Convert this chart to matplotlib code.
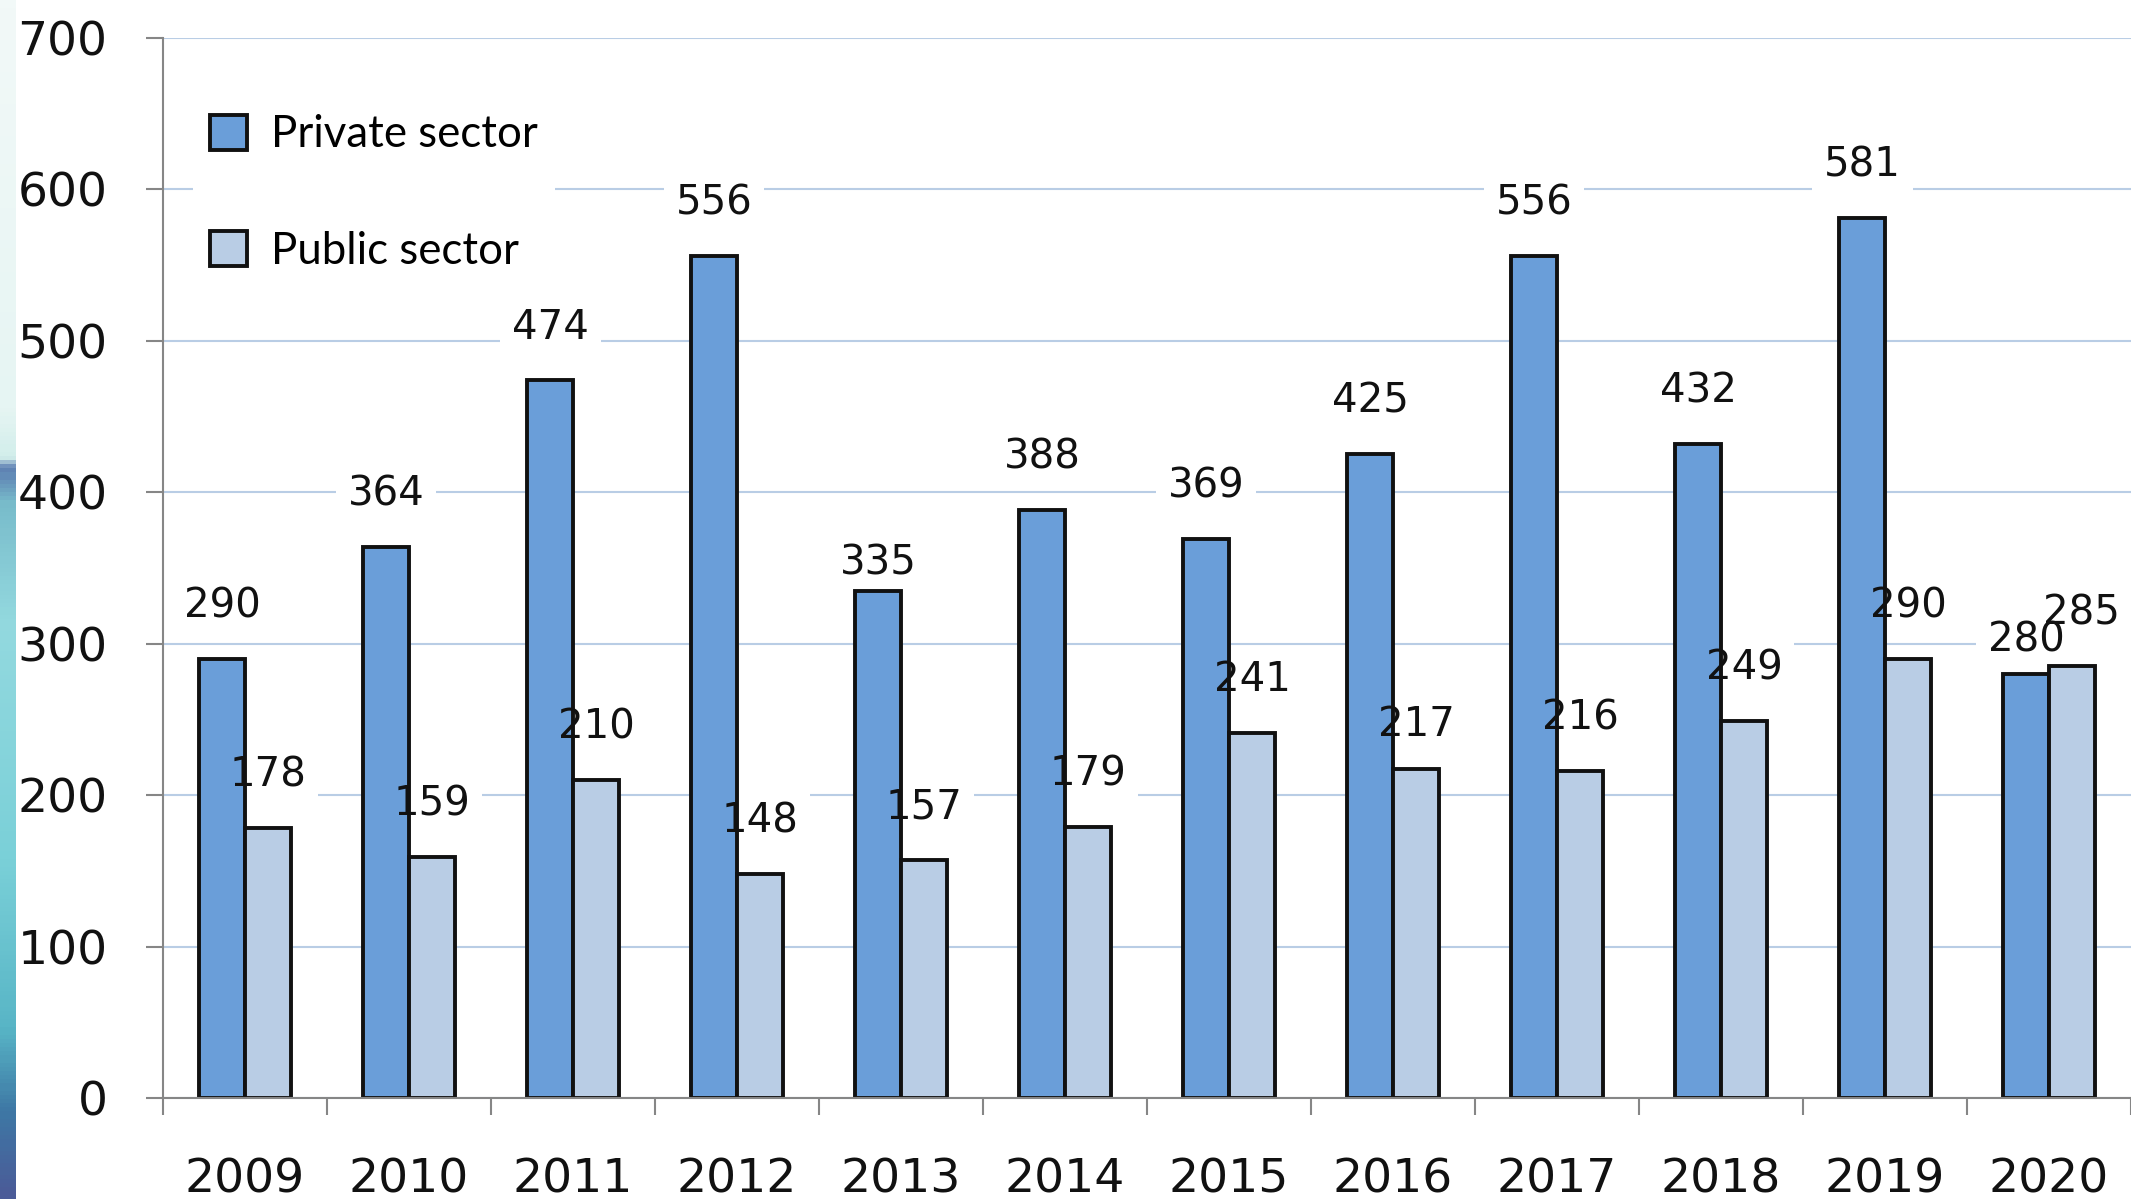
import numpy as np
import matplotlib
matplotlib.use("Agg")
import matplotlib.pyplot as plt
from matplotlib.colors import LinearSegmentedColormap
from matplotlib.patches import Rectangle

# Dados
anos = ["2009", "2010", "2011", "2012", "2013", "2014",
        "2015", "2016", "2017", "2018", "2019", "2020"]
privado = [290, 364, 474, 556, 335, 388, 369, 425, 556, 432, 581, 280]
publico = [178, 159, 210, 148, 157, 179, 241, 217, 216, 249, 290, 285]
series_nomes = ["Private sector", "Public sector"]

cor_privado = "#6a9ed9"
cor_publico = "#b9cde5"
cor_eixo = "#868686"

W, H = 2131, 1199
fig = plt.figure(figsize=(W / 100, H / 100), dpi=100)
fig.patch.set_facecolor("white")

# faixa da imagem de fundo na borda esquerda
faixa = fig.add_axes([0, 0, 16 / W, 1])
cmap_faixa = LinearSegmentedColormap.from_list("faixa", [
    (0.0, "#f2f9f8"), (0.34, "#e6f5f3"), (0.38, "#d2eeeb"),
    (0.39, "#5d7fb2"), (0.42, "#79bccb"), (0.52, "#93d9df"),
    (0.72, "#7ad0d8"), (0.86, "#58b5c6"), (0.93, "#3e78a5"),
    (1.0, "#4b5b98")])
faixa.imshow(np.linspace(0, 1, 300).reshape(-1, 1), aspect="auto", cmap=cmap_faixa)
faixa.axis("off")

# eixo principal
ax = fig.add_axes([163 / W, 101 / H, (W - 163) / W, 1060 / H])
x = np.arange(len(anos))
larg = 0.28

ax.bar(x - larg / 2, privado, larg, color=cor_privado, edgecolor="#111111",
       linewidth=2.8, zorder=2)
ax.bar(x + larg / 2, publico, larg, color=cor_publico, edgecolor="#111111",
       linewidth=2.8, zorder=2)

# deslocamentos manuais de alguns rótulos (como no original)
ajuste = {("priv", 4): (0, 12), ("pub", 7): (0, 24),
          ("priv", 11): (0, 16), ("pub", 11): (7, 30)}

# rótulos de dados (caixa branca por baixo das barras, texto por cima)
def rotular(xs, vals, serie):
    for i, (xi, v) in enumerate(zip(xs, vals)):
        off = ajuste.get((serie, i), (0, 30))
        ax.annotate(str(v), (xi, v), xytext=off, textcoords="offset points",
                    ha="center", va="baseline", fontsize=29, color="none",
                    bbox=dict(boxstyle="square,pad=0.3", fc="white", ec="none"),
                    zorder=1)
        ax.annotate(str(v), (xi, v), xytext=off, textcoords="offset points",
                    ha="center", va="baseline", fontsize=29, color="#111111",
                    zorder=5, annotation_clip=False)

rotular(x - larg / 2, privado, "priv")
rotular(x + larg / 2, publico, "pub")

ax.set_xlim(-0.5, -0.5 + (W - 163) / 164.7)
ax.set_ylim(0, 700)

ax.set_yticks(np.arange(0, 701, 100))
ax.yaxis.grid(True, color=cor_publico, linewidth=1.5)
ax.set_axisbelow(True)

ax.set_xticks(np.arange(len(anos) + 1) - 0.5)
ax.set_xticklabels([])
ax.set_xticks(x, minor=True)
ax.set_xticklabels(anos, minor=True)

ax.tick_params(axis="y", direction="out", length=12, width=1.5, color=cor_eixo,
               labelsize=34, pad=28, labelcolor="#111111")
ax.tick_params(axis="x", which="major", direction="out", length=12, width=1.5,
               color=cor_eixo)
ax.tick_params(axis="x", which="minor", length=0, labelsize=34, pad=43,
               labelcolor="#111111")

for lado in ["top", "right"]:
    ax.spines[lado].set_visible(False)
for lado in ["left", "bottom"]:
    ax.spines[lado].set_color(cor_eixo)
    ax.spines[lado].set_linewidth(1.5)

# legenda
alcas = [Rectangle((0, 0), 1, 1, fc=cor_privado, ec="#111111", lw=2.8),
         Rectangle((0, 0), 1, 1, fc=cor_publico, ec="#111111", lw=2.8)]
leg = ax.legend(alcas, series_nomes, loc="upper left",
                bbox_to_anchor=(0.004, 0.965), frameon=True, fancybox=False,
                facecolor="white", edgecolor="none", framealpha=1,
                prop={"family": "Lato", "size": 31.5},
                handlelength=0.84, handleheight=0.84, handletextpad=0.55,
                labelspacing=1.72, borderpad=0.4)
leg.set_zorder(6)

fig.savefig("out.png", dpi=100)
